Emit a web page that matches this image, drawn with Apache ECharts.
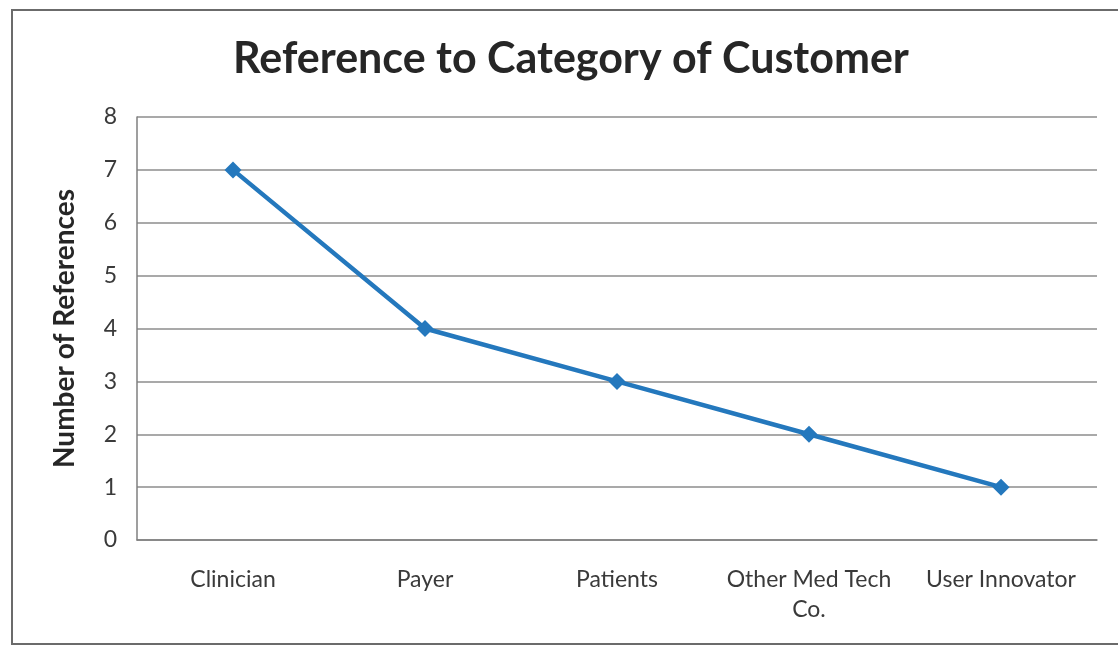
<!DOCTYPE html>
<html>
<head>
<meta charset="utf-8">
<script src="https://cdn.jsdelivr.net/npm/echarts@6/dist/echarts.min.js"></script>
<style>
  html, body { margin: 0; padding: 0; background: #ffffff; }
  #chart { width: 1118px; height: 651px; }
</style>
</head>
<body>
<div id="chart"></div>
<script>
// Customer categories and how often each was referenced
const categories = ['Clinician', 'Payer', 'Patients', 'Other Med Tech\nCo.', 'User Innovator'];
const references = [7, 4, 3, 2, 1];
const yTicks = { min: 0, max: 8, interval: 1 };

const FONT = 'Lato, "Open Sans", sans-serif';

const chart = echarts.init(document.getElementById('chart'));
chart.setOption({
  backgroundColor: '#ffffff',
  animation: false,
  graphic: [{
    type: 'rect',
    shape: { x: 12, y: 10, width: 1120, height: 634 },
    style: { fill: 'none', stroke: '#6b6b6b', lineWidth: 2 },
    silent: true
  }],
  title: {
    text: 'Reference to Category of Customer',
    left: 566,
    textAlign: 'center',
    top: 33,
    textStyle: { fontFamily: FONT, fontSize: 43, fontWeight: 'bold', color: '#262626' }
  },
  grid: { left: 137, right: 21, top: 117, bottom: 111, containLabel: false },
  xAxis: {
    type: 'category',
    data: categories,
    boundaryGap: true,
    axisLine: { show: true, lineStyle: { color: '#7f7f7f', width: 1.5 } },
    axisTick: { show: false },
    axisLabel: {
      fontFamily: FONT, fontSize: 23, color: '#3a3a3a', margin: 25, lineHeight: 30, interval: 0
    }
  },
  yAxis: {
    type: 'value',
    min: yTicks.min,
    max: yTicks.max,
    interval: yTicks.interval,
    name: 'Number of References',
    nameLocation: 'middle',
    nameGap: 58,
    nameTextStyle: { fontFamily: FONT, fontSize: 28, fontWeight: 'bold', color: '#262626' },
    axisLine: { show: true, lineStyle: { color: '#7f7f7f', width: 1.5 } },
    axisTick: { show: false },
    axisLabel: { fontFamily: FONT, fontSize: 23, color: '#3a3a3a', margin: 20 },
    splitLine: { show: true, lineStyle: { color: '#8c8c8c', width: 1.5 } }
  },
  series: [{
    type: 'line',
    data: references,
    symbol: 'diamond',
    symbolSize: 17,
    lineStyle: { color: '#2478bd', width: 4.5 },
    itemStyle: { color: '#2478bd' }
  }]
});
</script>
</body>
</html>
